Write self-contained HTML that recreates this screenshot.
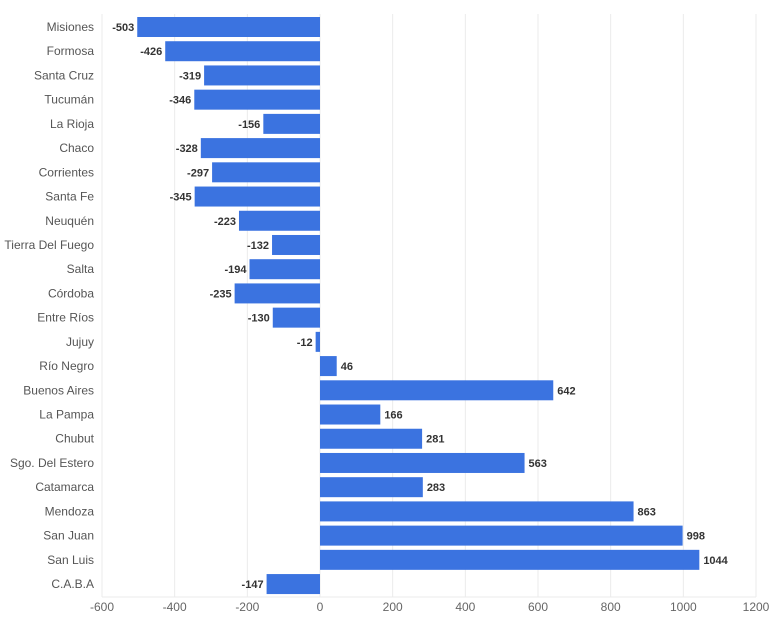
<!DOCTYPE html>
<html><head><meta charset="utf-8"><style>
body{margin:0;background:#fff;width:780px;height:624px;overflow:hidden}
svg{display:block;font-family:"Liberation Sans",sans-serif}
</style></head><body>
<svg id="chart" width="780" height="624"></svg>
<script>
const categories=["Misiones","Formosa","Santa Cruz","Tucumán","La Rioja","Chaco","Corrientes","Santa Fe","Neuquén","Tierra Del Fuego","Salta","Córdoba","Entre Ríos","Jujuy","Río Negro","Buenos Aires","La Pampa","Chubut","Sgo. Del Estero","Catamarca","Mendoza","San Juan","San Luis","C.A.B.A"];
const values=[-503,-426,-319,-346,-156,-328,-297,-345,-223,-132,-194,-235,-130,-12,46,642,166,281,563,283,863,998,1044,-147];
const ticks=[-600,-400,-200,0,200,400,600,800,1000,1200];
const NS="http://www.w3.org/2000/svg";
const svgEl=document.getElementById('chart');
const x0=102,x1=756,dmin=-600,dmax=1200;
const X=v=>x0+(v-dmin)/(dmax-dmin)*(x1-x0);
const plotTop=15,step=24.22;
const Y=i=>plotTop+i*step;
function mk(t,a){const e=document.createElementNS(NS,t);for(const k in a)e.setAttribute(k,a[k]);svgEl.appendChild(e);return e;}
ticks.forEach(t=>{
  const g=mk('line',{x1:X(t),x2:X(t),y1:14,y2:597,stroke:'#ebebeb','stroke-width':1});
  
  
  const l=mk('text',{x:X(t),y:611,'text-anchor':'middle','font-size':12,fill:'#666'});
  l.textContent=t;
  
  
});
const base=mk('line',{x1:x0,x2:x1,y1:597,y2:597,stroke:'#ebebeb'});


categories.forEach((c,i)=>{
  const v=values[i];
  const y=Y(i);
  const l=mk('text',{x:94,y:y+16,'text-anchor':'end','font-size':12,fill:'#555'});
  l.textContent=c;
  
  
  const xa=X(Math.min(0,v)),xb=X(Math.max(0,v));
  const r=mk('rect',{x:xa,y:y+2,width:Math.max(1,xb-xa),height:20,fill:'#3b73e0'});
  
  
  const t=mk('text',{x:v<0?xa-3:xb+4,y:y+16,'text-anchor':v<0?'end':'start','font-size':11,'font-weight':'bold',fill:'#333'});
  t.textContent=v;
  
  
});
</script>
</body></html>
